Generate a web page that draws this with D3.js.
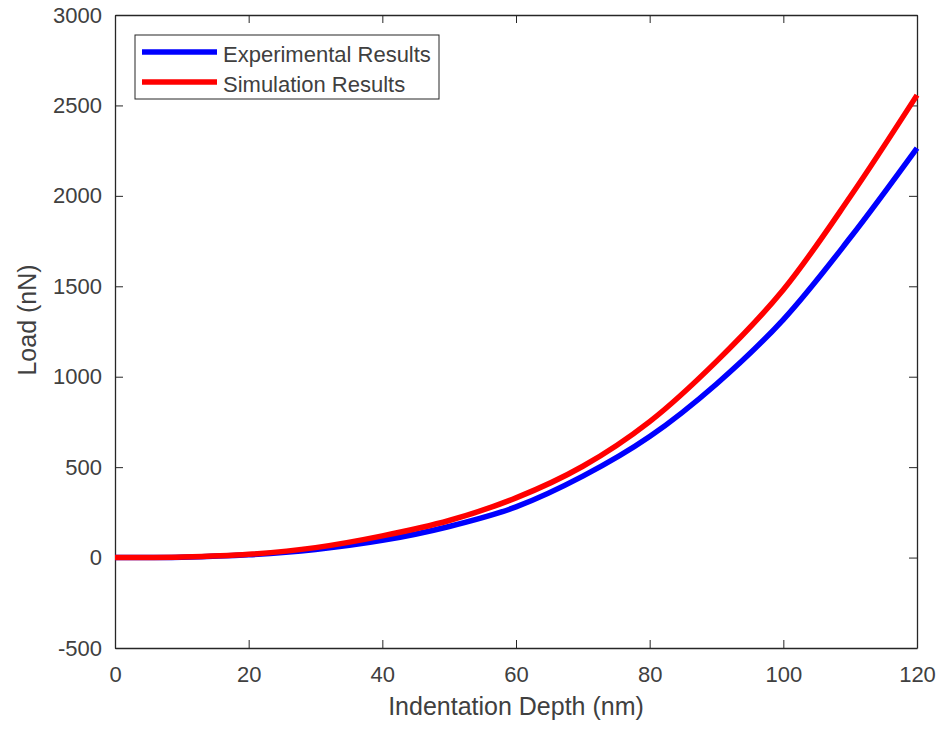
<!DOCTYPE html>
<html lang="en">
<head>
  <meta charset="UTF-8" />
  <title>Load vs Indentation Depth</title>
  <script src="https://d3js.org/d3.v7.min.js"></script>
  <style>
    body { margin: 0; background: #fff; }
    text { font-family: "Liberation Sans", Arial, sans-serif; fill: #404040; }
    .axis path, .axis line { stroke: #262626; }
  </style>
</head>
<body>
  <div id="chart"></div>
  <script>
    // data
    const depth = [0, 10, 20, 30, 40, 50, 60, 70, 80, 90, 100, 110, 120];
    const experimental = [0, 2, 15, 45, 95, 172, 280, 450, 669, 960, 1316, 1768, 2264];
    const simulation = [0, 3, 18, 55, 120, 205, 330, 505, 752, 1085, 1481, 1995, 2557];
    const xTicks = [0, 20, 40, 60, 80, 100, 120];
    const yTicks = [-500, 0, 500, 1000, 1500, 2000, 2500, 3000];
    const seriesNames = ["Experimental Results", "Simulation Results"];
    const seriesColors = ["#0000ff", "#ff0000"];

    const width = 943, height = 734;
    const margin = { top: 15, right: 26, bottom: 86, left: 115 };
    const w = width - margin.left - margin.right;
    const h = height - margin.top - margin.bottom;

    const svg = d3.select("#chart").append("svg")
      .attr("width", width)
      .attr("height", height);

    const g = svg.append("g")
      .attr("transform", `translate(${margin.left},${margin.top})`);

    const x = d3.scaleLinear().domain([0, 120]).range([0, w]);
    const y = d3.scaleLinear().domain([-500, 3000]).range([h, 0]);

    // box axes with inward ticks
    const fontSize = 22;
    const fmt = d => String(d);
    const xb = g.append("g").attr("class", "axis")
      .attr("transform", `translate(0,${h})`)
      .call(d3.axisBottom(x).tickValues(xTicks).tickFormat(fmt).tickSizeInner(-8).tickSizeOuter(0).tickPadding(18));
    const xt = g.append("g").attr("class", "axis")
      .call(d3.axisTop(x).tickValues(xTicks).tickSizeInner(-8).tickSizeOuter(0).tickFormat(""));
    const yl = g.append("g").attr("class", "axis")
      .call(d3.axisLeft(y).tickValues(yTicks).tickFormat(fmt).tickSizeInner(-8).tickSizeOuter(0).tickPadding(13));
    const yr = g.append("g").attr("class", "axis")
      .attr("transform", `translate(${w},0)`)
      .call(d3.axisRight(y).tickValues(yTicks).tickSizeInner(-8).tickSizeOuter(0).tickFormat(""));

    [xb, xt, yl, yr].forEach(a => {
      a.selectAll("text").style("font-size", fontSize + "px").attr("fill", "#404040");
      a.selectAll("path").attr("stroke-width", 1.3);
    });

    // lines
    const line = d3.line()
      .x((d, i) => x(depth[i]))
      .y(d => y(d))
      .curve(d3.curveCatmullRom);

    [experimental, simulation].forEach((s, k) => {
      g.append("path")
        .datum(s)
        .attr("fill", "none")
        .attr("stroke", seriesColors[k])
        .attr("stroke-width", 5.5)
        .attr("d", line);
    });

    // legend
    const leg = g.append("g").attr("transform", "translate(20,20)");
    leg.append("rect")
      .attr("width", 304).attr("height", 64)
      .attr("fill", "#fff").attr("stroke", "#262626").attr("stroke-width", 1);
    seriesNames.forEach((name, k) => {
      const cy = 17 + k * 30;
      leg.append("line")
        .attr("x1", 7).attr("x2", 82)
        .attr("y1", cy).attr("y2", cy)
        .attr("stroke", seriesColors[k]).attr("stroke-width", 5.5);
      leg.append("text")
        .attr("x", 88).attr("y", cy + 2)
        .attr("dy", "0.35em")
        .style("font-size", "22px")
        .attr("fill", "#262626")
        .text(name);
    });

    // axis labels
    svg.append("text")
      .attr("x", margin.left + w / 2)
      .attr("y", 715)
      .attr("text-anchor", "middle")
      .style("font-size", "25px")
      .text("Indentation Depth (nm)");

    svg.append("text")
      .attr("transform", `translate(27,320) rotate(-90)`)
      .attr("dy", "0.35em")
      .attr("text-anchor", "middle")
      .style("font-size", "25px")
      .text("Load (nN)");
  </script>
</body>
</html>
